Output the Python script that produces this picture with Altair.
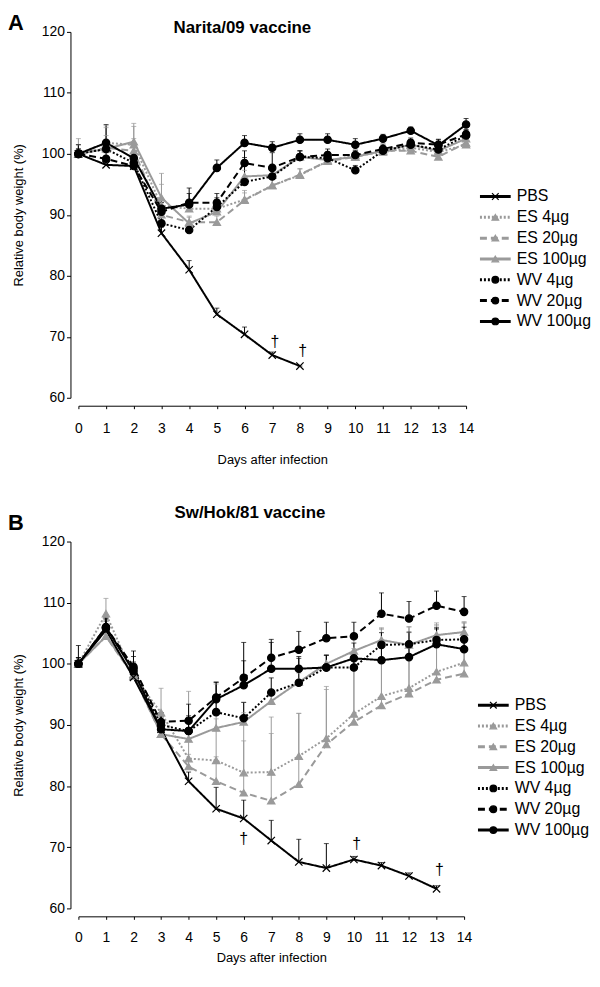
import altair as alt
import pandas as pd

days = list(range(15))
series = ["PBS", "ES 4µg", "ES 20µg", "ES 100µg", "WV 4µg", "WV 20µg", "WV 100µg"]
draw_order = ["ES 4µg", "ES 20µg", "ES 100µg", "WV 4µg", "WV 20µg", "WV 100µg", "PBS"]
GRAY = "#9a9a9a"
colors = ["#000000", GRAY, GRAY, GRAY, "#000000", "#000000", "#000000"]
dashes = [[1, 0], [2, 2], [7, 4], [1, 0], [2, 2], [7, 4], [1, 0]]
XPATH = "M-1,-1L1,1M-1,1L1,-1"
shapes = [XPATH, "triangle-up", "triangle-up", "triangle-up", "circle", "circle", "circle"]

# ---------------- Panel A: Narita/09 vaccine ----------------
A_PBS = [100, 98.2, 98.0, 87.0, 81.0, 73.7, 70.4, 67.0, 65.2]
A_PBS_err = [0.5, 0.8, 1.0, 1.0, 1.5, 1.0, 1.2, 0.5, 0.0]
A_ES4 = [100, 101.8, 101.5, 91.5, 91.0, 91.0, 92.5, 94.8, 96.5, 98.8, 99.8, 100.3, 101.0, 100.3, 101.5]
A_ES4_err = [2.5, 2.5, 3.0, 3.5, 1.5, 1.5, 1.5, 1.0, 1.0, 1.0, 0.8, 0.8, 0.8, 0.8, 0.8]
A_ES20 = [100, 101.0, 100.5, 90.0, 88.8, 88.8, 92.4, 94.8, 96.6, 98.8, 99.5, 100.5, 100.5, 99.5, 101.8]
A_ES20_err = [1.5, 2.0, 2.0, 2.0, 1.0, 1.0, 1.2, 1.0, 1.0, 1.0, 0.8, 0.8, 0.8, 0.8, 0.8]
A_ES100 = [100, 100.8, 102.0, 92.8, 88.6, 90.5, 96.3, 96.5, 99.5, 99.0, 99.5, 100.5, 101.5, 100.5, 102.5]
A_ES100_err = [1.5, 3.8, 3.0, 4.0, 1.0, 1.5, 1.0, 1.0, 1.0, 0.8, 0.8, 0.8, 0.8, 0.8, 1.0]
A_WV4 = [100, 100.8, 98.5, 88.6, 87.5, 91.3, 95.4, 96.3, 99.5, 99.3, 97.3, 100.5, 101.5, 100.7, 103.0]
A_WV4_err = [0.8, 1.0, 1.5, 1.0, 1.0, 1.5, 4.0, 1.5, 1.0, 1.0, 0.8, 0.8, 0.8, 0.8, 0.8]
A_WV20 = [100, 99.2, 98.0, 90.5, 92.0, 92.0, 98.5, 97.7, 99.5, 99.8, 99.8, 100.8, 101.8, 101.5, 103.2]
A_WV20_err = [0.8, 1.0, 1.5, 1.5, 1.5, 1.5, 2.0, 2.5, 1.0, 1.0, 0.8, 0.8, 0.8, 0.8, 0.8]
A_WV100 = [100, 101.8, 99.3, 91.0, 91.7, 97.7, 101.8, 101.0, 102.3, 102.3, 101.5, 102.5, 103.8, 101.4, 104.8]
A_WV100_err = [1.5, 3.0, 2.0, 1.5, 2.7, 1.3, 1.2, 1.0, 1.0, 1.0, 1.0, 0.7, 0.6, 1.0, 1.0]
A_dagger_day = [7.1, 8.1]
A_dagger_val = [69.1, 67.6]

# ---------------- Panel B: Sw/Hok/81 vaccine ----------------
B_PBS = [100, 105.5, 97.8, 89.3, 80.8, 76.3, 74.7, 71.1, 67.6, 66.6, 68.0, 67.0, 65.3, 63.2]
B_PBS_err = [1.0, 1.5, 2.0, 2.0, 1.5, 3.5, 3.0, 3.3, 3.7, 4.0, 0.5, 0.5, 0.5, 0.5]
B_ES4 = [100, 108.2, 98.0, 92.0, 84.5, 84.2, 82.2, 82.3, 84.9, 87.8, 91.8, 94.7, 96.0, 98.7, 100.2]
B_ES4_err = [0, 2.5, 1.0, 4.0, 11.0, 12.5, 11.5, 9.0, 7.0, 8.0, 10.0, 11.0, 10.0, 7.5, 6.5]
B_ES20 = [100, 104.5, 98.0, 88.5, 83.2, 80.8, 78.9, 77.6, 80.3, 86.8, 90.5, 93.2, 95.1, 97.4, 98.4]
B_ES20_err = [0, 1.5, 1.5, 2.0, 2.0, 4.0, 8.5, 11.0, 11.6, 9.5, 12.0, 12.5, 11.0, 9.0, 8.5]
B_ES100 = [100, 104.5, 98.3, 88.5, 87.7, 89.5, 90.5, 93.9, 97.0, 100.0, 102.1, 103.9, 103.1, 104.7, 105.2]
B_ES100_err = [0, 1.5, 1.5, 2.0, 1.0, 1.5, 1.5, 1.5, 1.5, 1.5, 2.0, 2.0, 2.0, 2.0, 1.5]
B_WV4 = [100, 105.8, 99.2, 90.0, 89.0, 92.1, 91.1, 95.3, 96.9, 99.4, 99.4, 103.1, 103.2, 103.9, 104.0]
B_WV4_err = [1.0, 1.5, 2.0, 2.0, 2.5, 2.5, 2.6, 2.4, 4.0, 2.0, 2.0, 2.0, 2.0, 2.0, 2.0]
B_WV20 = [100, 106.0, 99.5, 90.5, 90.7, 94.5, 97.7, 101.0, 102.3, 104.2, 104.5, 108.2, 107.4, 109.5, 108.5]
B_WV20_err = [3.0, 1.5, 2.6, 1.5, 2.7, 2.5, 5.8, 3.0, 3.0, 2.6, 2.3, 3.4, 2.8, 2.4, 2.5]
B_WV100 = [100, 106.0, 98.8, 89.3, 89.0, 94.2, 96.5, 99.2, 99.2, 99.4, 100.9, 100.6, 101.1, 103.2, 102.4]
B_WV100_err = [1.0, 1.5, 1.5, 1.5, 1.5, 2.8, 4.0, 4.3, 2.0, 2.0, 2.5, 2.5, 2.5, 2.5, 2.5]
B_dagger_day = [6.0, 10.1, 13.1]
B_dagger_val = [71.3, 70.6, 66.2]

A_vals = {"PBS": (A_PBS, A_PBS_err), "ES 4µg": (A_ES4, A_ES4_err), "ES 20µg": (A_ES20, A_ES20_err),
          "ES 100µg": (A_ES100, A_ES100_err), "WV 4µg": (A_WV4, A_WV4_err),
          "WV 20µg": (A_WV20, A_WV20_err), "WV 100µg": (A_WV100, A_WV100_err)}
B_vals = {"PBS": (B_PBS, B_PBS_err), "ES 4µg": (B_ES4, B_ES4_err), "ES 20µg": (B_ES20, B_ES20_err),
          "ES 100µg": (B_ES100, B_ES100_err), "WV 4µg": (B_WV4, B_WV4_err),
          "WV 20µg": (B_WV20, B_WV20_err), "WV 100µg": (B_WV100, B_WV100_err)}


def build_df(vals):
    rows = []
    for s in draw_order:
        v, e = vals[s]
        for d, (val, err) in enumerate(zip(v, e)):
            rows.append({"series": s, "day": days[d], "value": val, "top": val + err})
    return pd.DataFrame(rows)


color_enc = alt.Color("series:N", scale=alt.Scale(domain=series, range=colors), legend=None)
fill_enc = alt.Fill("series:N", scale=alt.Scale(domain=series, range=colors), legend=None)
stroke_enc = alt.Stroke("series:N", scale=alt.Scale(domain=series, range=colors), legend=None)
dash_enc = alt.StrokeDash("series:N", scale=alt.Scale(domain=series, range=dashes), legend=None)
shape_enc = alt.Shape("series:N", scale=alt.Scale(domain=series, range=shapes), legend=None)


def plot_panel(df, dag_days, dag_vals, letter, title, letter_y, title_x, title_y, w, h,
               lab_pad, ttl_pad):
    xs = alt.Scale(domain=[0, 14], nice=False, zero=False, padding=0)
    ys = alt.Scale(domain=[60, 120], nice=False, zero=False, padding=0)
    xax = alt.Axis(values=days, title="Days after infection", offset=8, tickSize=3,
                   labelPadding=lab_pad, titlePadding=ttl_pad, labelFontSize=14, titleFontSize=13,
                   labelAngle=0, labelFlush=False)
    yax = alt.Axis(values=[60, 70, 80, 90, 100, 110, 120], title="Relative body weight (%)",
                   offset=8, tickSize=4, labelPadding=2, titlePadding=16,
                   labelFontSize=14, titleFontSize=13, labelFlush=False)
    X = alt.X("day:Q", scale=xs, axis=xax)
    Y = alt.Y("value:Q", scale=ys, axis=yax)
    Ytop = alt.Y("top:Q", scale=ys, axis=yax)
    base = alt.Chart(df)
    rules = base.mark_rule(strokeWidth=1).encode(x=X, y=Y, y2="top:Q", color=color_enc)
    caps = base.mark_tick(orient="horizontal", size=5, thickness=1).encode(x=X, y=Ytop, color=color_enc)
    lines = base.mark_line(strokeWidth=2).encode(x=X, y=Y, color=color_enc, strokeDash=dash_enc)
    pts = base.mark_point(filled=True, opacity=1, size=55, strokeWidth=1.2).encode(
        x=X, y=Y, shape=shape_enc, fill=fill_enc, stroke=stroke_enc)
    dag = alt.Chart(pd.DataFrame({"day": dag_days, "value": dag_vals, "t": ["†"] * len(dag_days)})).mark_text(
        fontSize=16, baseline="middle", align="center", color="black").encode(
        x=alt.X("day:Q", scale=xs, axis=xax), y=alt.Y("value:Q", scale=ys, axis=yax), text="t:N")
    let = alt.Chart(pd.DataFrame({"t": [letter]})).mark_text(
        fontSize=22, fontWeight="bold", align="left", baseline="top", color="black").encode(
        x=alt.value(-71), y=alt.value(letter_y), text="t:N")
    ttl = alt.Chart(pd.DataFrame({"t": [title]})).mark_text(
        fontSize=17, fontWeight="bold", align="left", baseline="top", color="black").encode(
        x=alt.value(title_x), y=alt.value(title_y), text="t:N")
    return alt.layer(rules, caps, lines, pts, dag, let, ttl).properties(width=w, height=h)


def legend_panel(first_row_px, x0, h):
    rows_line, rows_pt = [], []
    for i, s in enumerate(series):
        rows_line += [{"series": s, "row": i, "lx": x0}, {"series": s, "row": i, "lx": x0 + 31}]
        rows_pt.append({"series": s, "row": i, "lx": x0 + 15.5, "tx": x0 + 37})
    lx = alt.Scale(domain=[0, 100], nice=False, zero=False, padding=0)
    top = -first_row_px / 21.0
    ly = alt.Scale(domain=[top, top + h / 21.0], nice=False, zero=False, reverse=True, padding=0)
    ln = alt.Chart(pd.DataFrame(rows_line)).mark_line(strokeWidth=3).encode(
        x=alt.X("lx:Q", scale=lx, axis=None), y=alt.Y("row:Q", scale=ly, axis=None),
        color=color_enc, strokeDash=dash_enc, detail="series:N")
    pt = alt.Chart(pd.DataFrame(rows_pt)).mark_point(filled=True, opacity=1, size=45, strokeWidth=1.2).encode(
        x=alt.X("lx:Q", scale=lx, axis=None), y=alt.Y("row:Q", scale=ly, axis=None),
        shape=shape_enc, fill=fill_enc, stroke=stroke_enc)
    tx = alt.Chart(pd.DataFrame(rows_pt)).mark_text(fontSize=16, align="left", baseline="middle",
                                                    color="black").encode(
        x=alt.X("tx:Q", scale=lx, axis=None), y=alt.Y("row:Q", scale=ly, axis=None), text="series:N")
    return alt.layer(ln, pt, tx).properties(width=100, height=h)


dfA = build_df(A_vals)
dfB = build_df(B_vals)

panelA = alt.hconcat(
    plot_panel(dfA, A_dagger_day, A_dagger_val, "A", "Narita/09 vaccine", -19, 96, -12, 391, 369, 13, 18),
    legend_panel(166, 4, 369), spacing=0)
panelB = alt.hconcat(
    plot_panel(dfB, B_dagger_day, B_dagger_val, "B", "Sw/Hok/81 vaccine", -29, 97, -37, 389, 370, 11, 8),
    legend_panel(165, 3, 370), spacing=0)

chart = alt.vconcat(panelA, panelB, spacing=38).properties(
    padding={"left": 0, "top": 0, "right": 0, "bottom": 0}
).configure(font="Liberation Sans").configure_view(stroke=None).configure_axis(
    grid=False, domainColor="black", tickColor="black", labelColor="black", titleColor="black",
    titleFontWeight="normal", labelFont="Liberation Sans", titleFont="Liberation Sans")

chart.save("out.html", embed_options={"renderer": "svg", "actions": False})
